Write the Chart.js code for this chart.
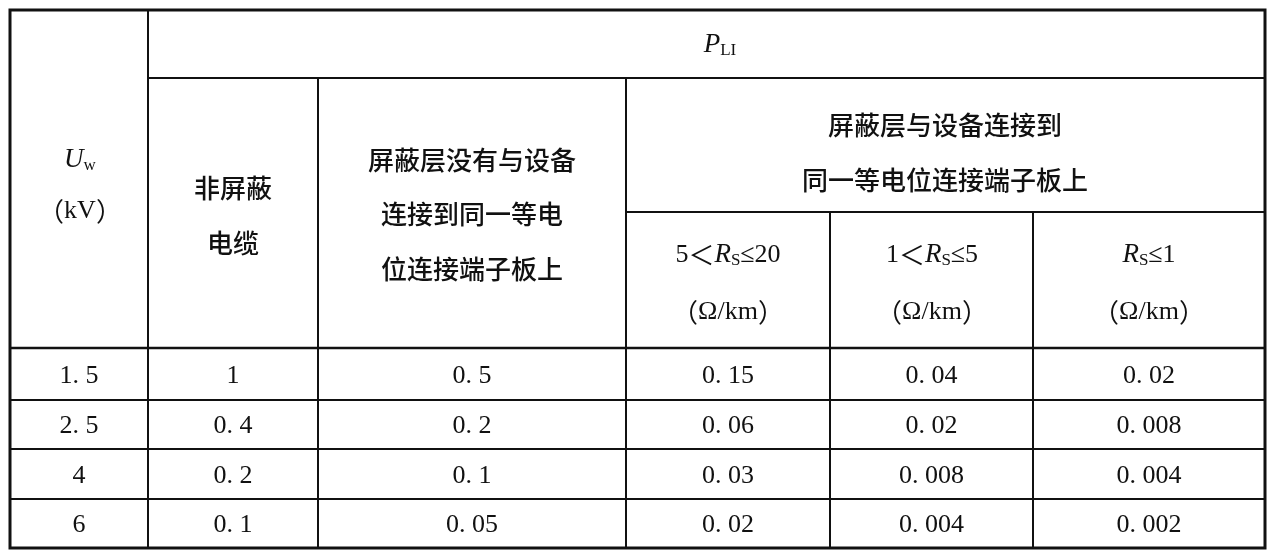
<!DOCTYPE html>
<html><head><meta charset="utf-8">
<script src="https://cdn.jsdelivr.net/npm/chart.js@4"></script>
<style>html,body{margin:0;padding:0;background:#fff}</style>
</head><body>
<canvas id="c" width="1275" height="558"></canvas>
<script>
const voltages = ["1.5","2.5","4","6"];
const unshielded = ["1","0.4","0.2","0.1"];
const notBonded = ["0.5","0.2","0.1","0.05"];
const rs5to20 = ["0.15","0.06","0.03","0.02"];
const rs1to5 = ["0.04","0.02","0.008","0.004"];
const rsLe1 = ["0.02","0.008","0.004","0.002"];
const columns = [voltages, unshielded, notBonded, rs5to20, rs1to5, rsLe1];

const colEdges = [10, 148, 318, 626, 830, 1033, 1265];
const rowEdges = [348, 400, 449, 499, 548];
const TOP = 10, PLI_Y = 78, SUB_Y = 212;

const SERIF = '"Liberation Serif","DejaVu Serif",serif';
const CJK = '"Noto Sans CJK SC",sans-serif';

function rich(ctx, sx, sy, cx, cy, segs){
  let w = 0;
  segs.forEach(s=>{ctx.font=s[1]; w+=ctx.measureText(s[0]).width;});
  let x = sx(cx) - w/2;
  segs.forEach(s=>{ctx.font=s[1]; ctx.fillText(s[0], x, sy(cy)+(s[2]||0)); x+=ctx.measureText(s[0]).width;});
}

const tablePlugin = {
  id:'table',
  afterDraw(chart){
    const ctx = chart.ctx, X = chart.scales.x, Y = chart.scales.y;
    const sx = v=>X.getPixelForValue(v), sy = v=>Y.getPixelForValue(v);
    ctx.save();
    ctx.strokeStyle='#111'; ctx.fillStyle='#111';
    const line=(x1,y1,x2,y2,w)=>{ctx.lineWidth=w;ctx.beginPath();ctx.moveTo(sx(x1),sy(y1));ctx.lineTo(sx(x2),sy(y2));ctx.stroke();};
    ctx.lineWidth=3; ctx.strokeRect(sx(10),sy(TOP),sx(1265)-sx(10),sy(548)-sy(TOP));
    line(colEdges[1],TOP,colEdges[1],548,2);
    for(let i=2;i<6;i++){ line(colEdges[i], i>=4?SUB_Y:PLI_Y, colEdges[i], 548, 2); }
    line(colEdges[1],PLI_Y,1265,PLI_Y,2);
    line(colEdges[3],SUB_Y,1265,SUB_Y,2);
    line(10,rowEdges[0],1265,rowEdges[0],2.5);
    for(let r=1;r<4;r++) line(10,rowEdges[r],1265,rowEdges[r],2);
    ctx.textBaseline='middle';
    const big='500 26px '+CJK, par='26px '+CJK, it='italic 27px '+SERIF, sm='17px '+SERIF, num='26px '+SERIF;
    rich(ctx,sx,sy,720,45,[["P",it],["LI",sm,6]]);
    rich(ctx,sx,sy,80,160,[["U",it],["w",sm,6]]);
    rich(ctx,sx,sy,80,211,[["（",par],["kV",num],["）",par]]);
    rich(ctx,sx,sy,233,188,[["非屏蔽",big]]);
    rich(ctx,sx,sy,233,243,[["电缆",big]]);
    rich(ctx,sx,sy,472,160,[["屏蔽层没有与设备",big]]);
    rich(ctx,sx,sy,472,214,[["连接到同一等电",big]]);
    rich(ctx,sx,sy,472,269,[["位连接端子板上",big]]);
    rich(ctx,sx,sy,945,125,[["屏蔽层与设备连接到",big]]);
    rich(ctx,sx,sy,945,180,[["同一等电位连接端子板上",big]]);
    rich(ctx,sx,sy,728,255,[["5",num],["＜",par],["R",it],["S",sm,6],["≤20",num]]);
    rich(ctx,sx,sy,932,255,[["1",num],["＜",par],["R",it],["S",sm,6],["≤5",num]]);
    rich(ctx,sx,sy,1149,255,[["R",it],["S",sm,6],["≤1",num]]);
    [728,932,1149].forEach(c=>rich(ctx,sx,sy,c,312,[["（",par],["Ω/km",num],["）",par]]));
    columns.forEach((col,ci)=>{
      const cx=(colEdges[ci]+colEdges[ci+1])/2;
      col.forEach((v,ri)=>{
        rich(ctx,sx,sy,cx,(rowEdges[ri]+rowEdges[ri+1])/2+2,[[v.replace('.', '. '),num]]);
      });
    });
    ctx.restore();
  }
};

new Chart(document.getElementById('c'),{
  type:'scatter',
  data:{datasets:[{data:[]}]},
  options:{
    responsive:false, animation:false, devicePixelRatio:1,
    layout:{padding:0},
    plugins:{legend:{display:false},tooltip:{enabled:false}},
    scales:{
      x:{type:'linear',min:0,max:1275,display:false},
      y:{type:'linear',min:0,max:558,reverse:true,display:false}
    }
  },
  plugins:[tablePlugin]
});
</script>
</body></html>
